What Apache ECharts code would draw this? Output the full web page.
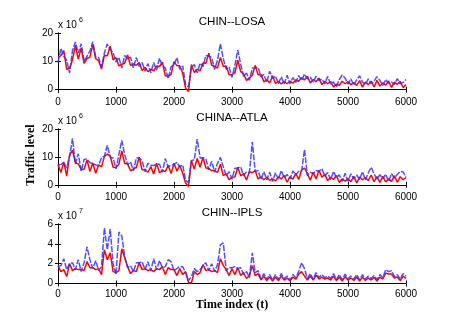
<!DOCTYPE html>
<html>
<head>
<meta charset="utf-8">
<script src="https://cdn.jsdelivr.net/npm/echarts@6/dist/echarts.min.js"></script>
<style>html,body{margin:0;padding:0;background:#fff}#c{width:449px;height:319px}</style>
</head>
<body>
<div id="c"></div>
<script>
// sampling step of the time index (t)
const STEP = 50;
const xTicks = [0, 1000, 2000, 3000, 4000, 5000, 6000];
const titles = ['CHIN--LOSA', 'CHINA--ATLA', 'CHIN--IPLS'];
const exps = ['6', '6', '7'];
const yTicks1 = [0, 10, 20];
const yTicks2 = [0, 10, 20];
const yTicks3 = [0, 2, 4, 6];

// CHIN--LOSA (x 10^6)
const red1 = [
11.4,12.0,13.8,7.2,7.5,10.6,15.6,10.8,14.7,9.3,11.0,11.5,15.9,11.0,10.3,7.3,12.1,12.0,15.4,10.5,
11.3,8.4,9.0,9.3,12.3,8.5,9.1,8.6,9.6,6.8,7.9,6.4,7.2,6.7,8.3,8.2,9.7,4.9,4.8,5.4,
9.9,8.5,8.4,5.8,0.5,-0.6,8.9,6.1,7.2,6.7,9.4,9.3,12.9,8.6,8.3,7.6,11.4,8.2,8.4,5.3,
5.3,6.0,10.4,6.4,5.6,3.3,4.2,5.1,8.6,5.3,5.4,2.8,3.5,2.4,4.9,2.2,3.0,2.0,2.9,2.1,
3.0,2.3,3.5,3.0,4.2,3.5,4.7,2.4,3.6,2.8,4.1,1.8,3.0,2.1,2.9,1.0,1.9,1.6,3.0,2.1,
2.9,1.8,2.5,1.5,3.2,0.9,2.7,1.8,3.0,1.0,3.3,1.3,2.4,1.6,3.1,0.8,2.7,1.9,3.0,0.8,
1.8];
const blue1 = [
9.6,14.6,11.8,10.4,5.9,13.9,16.8,12.9,16.2,10.1,11.8,13.6,16.9,11.7,11.4,8.1,13.0,16.1,14.2,13.1,
9.8,11.4,7.6,12.1,10.8,11.5,7.7,11.4,8.3,9.6,6.5,9.2,6.0,9.6,6.9,11.1,8.4,7.7,3.9,8.1,
8.7,11.3,7.2,8.4,1.8,1.0,7.9,8.9,6.0,9.4,8.2,12.1,11.8,11.4,7.1,10.4,16.2,10.9,7.2,8.0,
4.4,8.6,14.0,9.0,4.7,5.9,3.3,7.7,7.7,7.9,4.5,5.4,2.6,6.5,4.0,4.8,2.1,4.6,2.0,5.1,
2.1,4.3,2.6,5.0,3.3,5.5,3.8,4.4,2.7,4.8,3.2,3.8,2.1,4.7,2.0,2.8,1.0,3.6,5.2,4.1,
2.0,3.8,1.6,3.5,4.9,2.7,1.8,3.8,2.1,3.0,4.6,3.3,1.5,3.6,2.2,2.7,1.8,3.9,2.1,2.6,
3.6];

// CHINA--ATLA (x 10^6)
const red2 = [
7.3,4.4,8.2,3.1,10.6,12.4,7.9,7.5,5.4,5.6,8.9,4.8,7.8,4.1,7.1,6.4,10.2,11.0,10.4,6.3,
6.2,7.4,12.1,7.6,7.5,5.0,5.7,6.2,9.9,5.4,5.3,4.5,6.5,3.8,7.7,4.3,5.1,4.7,6.9,4.0,
7.7,4.9,7.0,4.1,0.6,-0.6,8.7,5.6,9.4,6.3,9.8,6.0,5.8,5.1,5.1,4.4,7.4,3.3,3.9,1.8,
2.7,2.8,6.3,3.2,4.0,1.7,4.7,4.3,5.1,2.1,2.8,1.8,2.7,1.6,2.1,1.4,2.8,2.1,3.3,0.9,
2.9,2.0,4.1,1.9,5.3,6.0,3.9,1.6,4.5,2.1,5.2,2.7,3.8,1.5,2.7,1.9,3.3,0.8,2.1,1.3,
2.2,1.1,3.0,0.7,2.8,1.8,2.6,1.5,3.5,1.1,2.9,0.8,3.0,1.0,2.1,1.2,3.2,0.9,2.9,1.8,
2.6];
const blue2 = [
6.9,7.3,7.9,6.0,10.3,16.6,7.5,11.1,4.9,9.1,9.3,7.9,7.7,7.1,6.9,9.7,10.3,14.1,9.9,9.6,
5.7,10.9,15.9,10.8,7.2,8.2,5.0,9.6,9.6,8.6,4.7,7.7,7.0,6.9,7.4,7.4,4.5,9.4,6.4,7.1,
7.2,8.0,6.5,7.1,1.6,0.8,8.7,8.9,16.4,9.6,9.7,9.3,5.4,8.4,4.5,7.7,9.8,6.4,3.2,4.7,
2.0,5.9,6.0,6.4,3.3,4.6,4.3,15.4,4.7,5.1,2.0,4.7,1.8,4.5,1.2,4.3,2.0,5.1,2.5,3.7,
2.1,5.0,3.5,4.8,4.9,12.6,3.3,4.5,4.0,5.1,4.8,5.8,3.1,4.4,1.8,4.8,2.5,3.6,1.2,4.1,
1.3,3.9,2.1,3.5,1.9,4.7,1.7,4.3,6.3,3.9,2.0,3.6,2.1,3.8,1.2,4.0,2.4,3.7,4.8,4.6,
2.6];

// CHIN--IPLS (x 10^7)
const red3 = [
1.8,1.2,1.4,0.7,2.0,1.3,1.5,1.4,1.4,1.3,2.2,1.6,1.6,1.4,1.5,0.9,3.4,2.4,3.1,1.2,
1.1,1.3,3.5,2.6,1.7,1.0,1.3,1.2,2.1,1.4,1.5,1.3,1.4,1.2,1.5,1.4,1.7,0.9,1.6,1.4,
1.4,0.8,1.5,0.9,1.2,0.1,0.05,1.2,0.9,1.1,1.9,1.3,1.4,1.2,1.3,1.1,2.5,1.8,1.4,0.8,
1.5,0.9,1.6,0.8,1.1,0.5,0.8,1.8,0.8,1.0,0.35,0.75,0.3,0.65,0.25,0.65,0.3,0.75,0.35,0.55,
0.25,0.65,0.45,0.95,1.2,0.75,0.35,0.75,0.35,0.85,0.45,0.65,0.45,0.55,0.35,0.75,0.3,0.65,0.25,0.7,
0.35,0.55,0.3,0.65,0.25,0.65,0.3,0.55,0.35,0.6,0.25,0.65,0.45,1.05,0.95,0.95,0.55,0.65,0.3,0.75,
0.5];
const blue3 = [
1.7,1.8,2.5,1.4,2.0,2.1,1.4,2.4,1.2,2.1,3.7,2.4,1.5,2.3,1.3,1.7,5.6,3.4,5.5,2.0,
0.9,5.2,4.8,2.7,1.6,1.8,1.2,2.1,2.1,2.2,1.4,2.2,1.3,2.5,1.4,2.3,1.6,1.7,2.4,2.2,
1.3,1.5,1.7,1.7,1.1,0.3,0.7,1.5,1.2,1.4,1.8,2.1,1.3,2.0,1.2,1.9,3.9,4.1,1.3,1.6,
1.6,1.7,1.5,1.6,0.9,1.2,0.6,3.1,1.1,1.3,0.5,1.0,0.4,0.9,0.35,0.9,0.4,1.0,0.5,0.75,
0.35,0.9,0.6,1.2,2.1,1.5,0.5,1.0,0.45,1.1,0.6,0.9,0.6,0.75,0.5,1.0,0.4,0.9,0.4,0.95,
0.5,0.75,0.45,0.9,0.4,0.9,0.45,0.75,0.5,0.8,0.4,0.9,0.6,1.4,1.2,1.3,0.7,0.9,0.45,1.0,
0.75];

const FONT = '"Liberation Sans", Arial, Helvetica, sans-serif';
const SERIF = '"Liberation Serif", "Times New Roman", serif';
const pair = arr => arr.map((v, i) => [i * STEP, v]);

const grids = [
  {left: 58, width: 348, top: 33, height: 59},
  {left: 58, width: 348, top: 129, height: 58},
  {left: 58, width: 348, top: 224, height: 60}
];
const yRanges = [[-0.8, 20, yTicks1], [-0.8, 20, yTicks2], [-0.05, 6, yTicks3]];
const reds = [red1, red2, red3];
const blues = [blue1, blue2, blue3];

const xAxis = [], yAxis = [], series = [], graphic = [];
grids.forEach((g, i) => {
  const axLine = {show: true, lineStyle: {color: '#000', width: 1}};
  xAxis.push({gridIndex: i, type: 'value', min: 0, max: 6000, interval: 1000, position: 'bottom',
    axisLine: axLine, axisTick: {inside: true, length: 3, lineStyle: {color: '#000'}},
    axisLabel: {color: '#000', fontSize: 10, fontFamily: FONT, margin: 5, customValues: xTicks,
      formatter: v => String(v)},
    splitLine: {show: false}});
  xAxis.push({gridIndex: i, type: 'value', min: 0, max: 6000, interval: 1000, position: 'top',
    axisLine: axLine, axisTick: {inside: true, length: 3, lineStyle: {color: '#000'}},
    axisLabel: {show: false}, splitLine: {show: false}});
  const [mn, mx, tk] = yRanges[i];
  yAxis.push({gridIndex: i, type: 'value', min: mn, max: mx, position: 'left',
    axisLine: axLine, axisTick: {inside: true, length: 3, customValues: tk, lineStyle: {color: '#000'}},
    axisLabel: {color: '#000', fontSize: 10, fontFamily: FONT, margin: 5, customValues: tk,
      formatter: v => String(v)},
    splitLine: {show: false}});
  yAxis.push({gridIndex: i, type: 'value', min: mn, max: mx, position: 'right',
    axisLine: axLine, axisTick: {inside: true, length: 3, customValues: tk, lineStyle: {color: '#000'}},
    axisLabel: {show: false}, splitLine: {show: false}});
  series.push({type: 'line', xAxisIndex: 2 * i, yAxisIndex: 2 * i, data: pair(reds[i]),
    showSymbol: false, symbol: 'none', lineStyle: {color: '#ff0000', width: 1.5}, animation: false, clip: true, z: 2});
  series.push({type: 'line', xAxisIndex: 2 * i, yAxisIndex: 2 * i, data: pair(blues[i]),
    showSymbol: false, symbol: 'none', lineStyle: {color: '#3030ff', width: 1.5, type: [6, 1.5], opacity: 0.85}, animation: false, clip: true, z: 3});
  const ty = [22, 118, 213][i];
  graphic.push({type: 'text', x: 232, y: ty, style: {text: titles[i], font: '11.5px ' + FONT, fill: '#000', textAlign: 'center', textVerticalAlign: 'middle'}});
  const ey = [25, 121, 216][i];
  graphic.push({type: 'text', x: 58, y: ey, style: {text: 'x 10', font: '10px ' + FONT, fill: '#000', textAlign: 'left', textVerticalAlign: 'middle'}});
  graphic.push({type: 'text', x: 79, y: ey - 5, style: {text: exps[i], font: '7px ' + FONT, fill: '#000', textAlign: 'left', textVerticalAlign: 'middle'}});
});
graphic.push({type: 'text', x: 232, y: 305, style: {text: 'Time index (t)', font: 'bold 12px ' + SERIF, fill: '#000', textAlign: 'center', textVerticalAlign: 'middle'}});
graphic.push({type: 'text', x: 31, y: 155, rotation: Math.PI / 2, style: {text: 'Traffic level', font: 'bold 12px ' + SERIF, fill: '#000', textAlign: 'center', textVerticalAlign: 'middle'}});

const chart = echarts.init(document.getElementById('c'), null, {renderer: 'canvas'});
chart.setOption({
  backgroundColor: '#fff',
  animation: false,
  grid: grids,
  xAxis: xAxis,
  yAxis: yAxis,
  series: series,
  graphic: graphic
});
</script>
</body>
</html>
